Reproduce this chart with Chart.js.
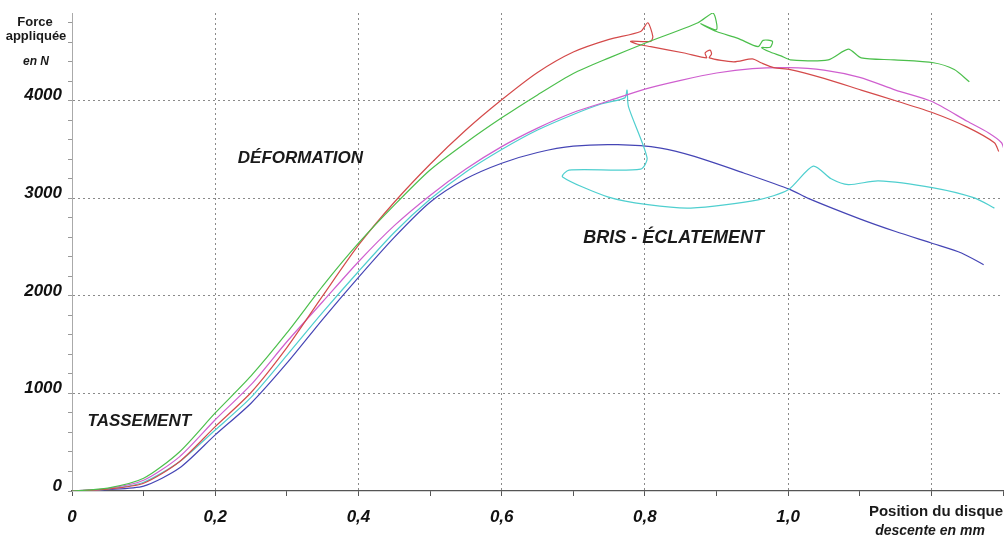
<!DOCTYPE html>
<html>
<head>
<meta charset="utf-8">
<script src="https://cdn.jsdelivr.net/npm/chart.js@4"></script>
<style>
  body { margin: 0; background: #fff; }
  #wrap { width: 1004px; height: 536px; }
</style>
</head>
<body>
<div id="wrap"><canvas id="forceChart" width="1004" height="536"></canvas></div>
<script>
// tick values and labels
const xTicks = [0, 0.1, 0.2, 0.3, 0.4, 0.5, 0.6, 0.7, 0.8, 0.9, 1.0, 1.1, 1.2, 1.3];
const xLabelValues = [0, 0.2, 0.4, 0.6, 0.8, 1.0];
const xLabelTexts = ['0', '0,2', '0,4', '0,6', '0,8', '1,0'];
const yTicks = [0, 200, 400, 600, 800, 1000, 1200, 1400, 1600, 1800, 2000, 2200, 2400, 2600, 2800,
    3000, 3200, 3400, 3600, 3800, 4000, 4200, 4400, 4600, 4800];
const yLabelValues = [0, 1000, 2000, 3000, 4000];
const yLabelTexts = ['0', '1000', '2000', '3000', '4000'];

// curves (position mm, force N)
const greenX = [0, 0.05, 0.1, 0.15, 0.2, 0.25, 0.3, 0.35, 0.4, 0.45, 0.5, 0.55, 0.6, 0.65, 0.7, 0.75, 0.8,
    0.874, 0.895, 0.9, 0.878, 0.9, 0.93, 0.958, 0.965, 0.978, 0.975, 0.963, 0.975, 0.99, 1.003, 1.056,
    1.084, 1.102, 1.148, 1.203, 1.232, 1.253];
const greenY = [0, 30, 130, 400, 800, 1180, 1620, 2100, 2540, 2930, 3290, 3570, 3825, 4060, 4280, 4440, 4590,
    4800, 4900, 4730, 4790, 4710, 4640, 4555, 4620, 4610, 4550, 4545, 4500, 4460, 4420, 4420,
    4530, 4440, 4420, 4390, 4320, 4195];

const redX = [0, 0.05, 0.1, 0.15, 0.2, 0.25, 0.3, 0.35, 0.4, 0.45, 0.5, 0.55, 0.6, 0.65, 0.7, 0.75, 0.794,
    0.804, 0.811, 0.808, 0.78, 0.79, 0.808, 0.855, 0.886, 0.884, 0.891, 0.893, 0.89, 0.924, 0.95, 0.962,
    0.98, 1.003, 1.05, 1.102, 1.15, 1.203, 1.25, 1.288, 1.294];
const redY = [0, 20, 80, 300, 660, 1010, 1470, 2000, 2520, 2960, 3350, 3700, 4010, 4290, 4500, 4630, 4710,
    4800, 4660, 4610, 4610, 4580, 4555, 4490, 4440, 4490, 4520, 4480, 4440, 4400, 4430, 4390,
    4340, 4320, 4230, 4110, 4000, 3875, 3730, 3570, 3480];

const pinkX = [0, 0.05, 0.1, 0.15, 0.2, 0.25, 0.3, 0.35, 0.4, 0.45, 0.5, 0.55, 0.6, 0.65, 0.7, 0.75, 0.8,
    0.85, 0.9, 0.95, 1.0, 1.05, 1.1, 1.15, 1.2, 1.25, 1.28, 1.298, 1.302];
const pinkY = [0, 25, 110, 350, 730, 1090, 1530, 1940, 2350, 2720, 3030, 3300, 3530, 3720, 3880, 4000, 4120,
    4210, 4285, 4330, 4340, 4315, 4240, 4110, 3995, 3790, 3670, 3570, 3480];

const cyanX = [0, 0.05, 0.1, 0.15, 0.2, 0.25, 0.3, 0.35, 0.4, 0.45, 0.5, 0.55, 0.6, 0.65, 0.7, 0.74,
    0.772, 0.775, 0.777, 0.803, 0.794, 0.694, 0.685, 0.748, 0.804, 0.864, 0.958, 1.0, 1.035, 1.06, 1.084,
    1.126, 1.203, 1.26, 1.288];
const cyanY = [0, 20, 90, 300, 625, 960, 1390, 1830, 2250, 2650, 2990, 3270, 3500, 3700, 3860, 3970,
    4030, 4110, 3940, 3415, 3300, 3290, 3220, 3015, 2935, 2900, 2985, 3087, 3330, 3200, 3140,
    3180, 3108, 3005, 2900];

const blueX = [0, 0.05, 0.1, 0.15, 0.2, 0.25, 0.3, 0.35, 0.4, 0.45, 0.5, 0.55, 0.6, 0.65, 0.7, 0.762,
    0.822, 0.869, 0.938, 1.003, 1.028, 1.1, 1.15, 1.203, 1.242, 1.273];
const blueY = [0, 15, 50, 235, 575, 900, 1310, 1760, 2190, 2600, 2960, 3200, 3360, 3470, 3535, 3550,
    3515, 3430, 3260, 3090, 3000, 2790, 2660, 2535, 2440, 2320];

function pts(xs, ys) {
    return xs.map((x, i) => ({ x: x, y: ys[i] }));
}

function curve(xs, ys, color) {
    return {
        data: pts(xs, ys),
        showLine: true,
        borderColor: color,
        borderWidth: 1.2,
        pointRadius: 0,
        tension: 0.25,
        fill: false,
    };
}

const textFont = 'Liberation Sans, Arial, sans-serif';

// free text: phase names inside the plot, axis titles outside
const textPlugin = {
    id: 'chartTexts',
    afterDraw(chart) {
        const ctx = chart.ctx;
        const xs = chart.scales.x;
        const ys = chart.scales.y;
        ctx.save();
        ctx.fillStyle = '#1a1a1a';
        ctx.textAlign = 'center';
        ctx.textBaseline = 'middle';
        ctx.font = 'italic bold 17px ' + textFont;
        ctx.fillText('DÉFORMATION', xs.getPixelForValue(0.319), ys.getPixelForValue(3415));
        ctx.fillText('TASSEMENT', xs.getPixelForValue(0.094), ys.getPixelForValue(718));
        ctx.font = 'italic bold 18px ' + textFont;
        ctx.fillText('BRIS - ÉCLATEMENT', xs.getPixelForValue(0.84), ys.getPixelForValue(2595));

        ctx.font = 'bold 13px ' + textFont;
        ctx.fillText('Force', 35, 22);
        ctx.fillText('appliquée', 36, 36);
        ctx.font = 'italic bold 12px ' + textFont;
        ctx.fillText('en N', 36, 62);

        ctx.font = 'bold 15px ' + textFont;
        ctx.fillText('Position du disque', 936, 512);
        ctx.font = 'italic bold 14px ' + textFont;
        ctx.fillText('descente en mm', 930, 531);
        ctx.restore();
    }
};

function findLabel(values, texts, v) {
    const i = values.findIndex(t => Math.abs(t - v) < 1e-6);
    return i >= 0 ? texts[i] : '';
}

const forceChart = new Chart(document.getElementById('forceChart').getContext('2d'), {
    type: 'scatter',
    data: {
        datasets: [
            curve(greenX, greenY, '#4cbf4c'),
            curve(redX, redY, '#d44a4a'),
            curve(pinkX, pinkY, '#cf5fcf'),
            curve(cyanX, cyanY, '#4fcfcf'),
            curve(blueX, blueY, '#4545b5'),
        ],
    },
    options: {
        responsive: false,
        animation: false,
        layout: { padding: { top: 13, right: 1, left: 0, bottom: 0 } },
        scales: {
            x: {
                type: 'linear',
                min: 0,
                max: 1.3,
                afterBuildTicks: (scale) => { scale.ticks = xTicks.map(v => ({ value: v })); },
                afterFit: (scale) => {
                    scale.height = 45;
                    scale.paddingLeft = 0;
                    scale.paddingRight = 0;
                },
                ticks: {
                    autoSkip: false,
                    maxRotation: 0,
                    padding: 11,
                    color: '#111',
                    font: { family: textFont, size: 17, weight: 'bold', style: 'italic' },
                    callback: (v) => findLabel(xLabelValues, xLabelTexts, v),
                },
                grid: {
                    color: (c) => {
                        const v = c.tick ? c.tick.value : 0;
                        const k = Math.round(v * 10);
                        return (k > 0 && k % 2 === 0) ? '#8a8a8a' : 'rgba(0,0,0,0)';
                    },
                    lineWidth: 1,
                    tickColor: '#555',
                    tickLength: 5,
                    tickBorderDash: [],
                },
                border: { display: true, color: '#555', width: 1.2, dash: [2, 3] },
            },
            y: {
                type: 'linear',
                min: 0,
                max: 4900,
                afterBuildTicks: (scale) => { scale.ticks = yTicks.map(v => ({ value: v })); },
                afterFit: (scale) => {
                    scale.width = 72;
                    scale.paddingTop = 0;
                    scale.paddingBottom = 0;
                },
                ticks: {
                    autoSkip: false,
                    padding: 6,
                    labelOffset: -5,
                    color: '#111',
                    font: { family: textFont, size: 17, weight: 'bold', style: 'italic' },
                    callback: (v) => findLabel(yLabelValues, yLabelTexts, v),
                },
                grid: {
                    color: (c) => {
                        const v = c.tick ? c.tick.value : 0;
                        return (v > 0 && v % 1000 === 0) ? '#8a8a8a' : 'rgba(0,0,0,0)';
                    },
                    lineWidth: 1,
                    tickColor: '#999',
                    tickLength: 4,
                    tickBorderDash: [],
                },
                border: { display: true, color: '#aaa', width: 1, dash: [2, 3] },
            },
        },
        plugins: {
            legend: { display: false },
            tooltip: { enabled: false },
        },
    },
    plugins: [textPlugin],
});
</script>
</body>
</html>
